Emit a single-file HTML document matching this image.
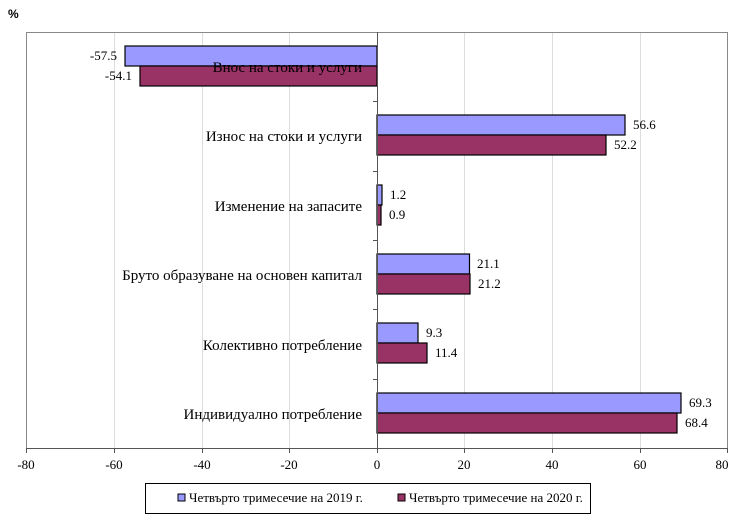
<!DOCTYPE html><html><head><meta charset="utf-8"><style>body{margin:0;background:#fff}</style></head><body>
<svg width="740" height="526" xmlns="http://www.w3.org/2000/svg" font-family="Liberation Serif, serif">
<text x="8" y="18" font-family="Liberation Sans, sans-serif" font-size="12" font-weight="bold">%</text>
<rect x="26.5" y="32.5" width="701" height="416" fill="#fff" stroke="#888"/>
<g stroke="#ddd">
<line x1="114.5" y1="33" x2="114.5" y2="448"/><line x1="202.5" y1="33" x2="202.5" y2="448"/><line x1="289.5" y1="33" x2="289.5" y2="448"/>
<line x1="464.5" y1="33" x2="464.5" y2="448"/><line x1="552.5" y1="33" x2="552.5" y2="448"/><line x1="640.5" y1="33" x2="640.5" y2="448"/>
</g>
<g stroke="#000" stroke-width="1.2">
<rect x="125" y="46" width="252" height="20" fill="#9999FF"/><rect x="140" y="66" width="237" height="20" fill="#993366"/>
<rect x="377" y="115" width="248" height="20" fill="#9999FF"/><rect x="377" y="135" width="229" height="20" fill="#993366"/>
<rect x="377" y="185" width="5" height="20" fill="#9999FF"/><rect x="377" y="205" width="4" height="20" fill="#993366"/>
<rect x="377" y="254" width="92.5" height="20" fill="#9999FF"/><rect x="377" y="274" width="93" height="20" fill="#993366"/>
<rect x="377" y="323" width="41" height="20" fill="#9999FF"/><rect x="377" y="343" width="50" height="20" fill="#993366"/>
<rect x="377" y="393" width="304" height="20" fill="#9999FF"/><rect x="377" y="413" width="300" height="20" fill="#993366"/>
</g>
<g stroke="#555"><line x1="377.5" y1="32" x2="377.5" y2="448"/><line x1="26" y1="448.5" x2="728" y2="448.5"/>
<line x1="373" y1="101.5" x2="377" y2="101.5"/><line x1="373" y1="171.5" x2="377" y2="171.5"/><line x1="373" y1="240.5" x2="377" y2="240.5"/><line x1="373" y1="309.5" x2="377" y2="309.5"/><line x1="373" y1="379.5" x2="377" y2="379.5"/>
<line x1="26.5" y1="448" x2="26.5" y2="453"/><line x1="114.5" y1="448" x2="114.5" y2="453"/><line x1="202.5" y1="448" x2="202.5" y2="453"/><line x1="289.5" y1="448" x2="289.5" y2="453"/><line x1="377.5" y1="448" x2="377.5" y2="453"/><line x1="464.5" y1="448" x2="464.5" y2="453"/><line x1="552.5" y1="448" x2="552.5" y2="453"/><line x1="640.5" y1="448" x2="640.5" y2="453"/><line x1="727.5" y1="448" x2="727.5" y2="453"/>
</g>
<g font-size="15" text-anchor="end" fill="#000">
<text x="362" y="72">Внос на стоки и услуги</text>
<text x="362" y="141">Износ на стоки и услуги</text>
<text x="362" y="211">Изменение на запасите</text>
<text x="362" y="280">Бруто образуване на основен капитал</text>
<text x="362" y="350">Колективно потребление</text>
<text x="362" y="419">Индивидуално потребление</text>
</g>
<g font-size="13" fill="#000">
<text x="117" y="60" text-anchor="end">-57.5</text><text x="132" y="80" text-anchor="end">-54.1</text>
<text x="633" y="129">56.6</text><text x="614" y="149">52.2</text>
<text x="390" y="199">1.2</text><text x="389" y="219">0.9</text>
<text x="477" y="268">21.1</text><text x="478" y="288">21.2</text>
<text x="426" y="337">9.3</text><text x="435" y="357">11.4</text>
<text x="689" y="407">69.3</text><text x="685" y="427">68.4</text>
</g>
<g font-size="13" text-anchor="middle" fill="#000">
<text x="26" y="469">-80</text><text x="114" y="469">-60</text><text x="202" y="469">-40</text><text x="289" y="469">-20</text><text x="377" y="469">0</text><text x="464" y="469">20</text><text x="552" y="469">40</text><text x="640" y="469">60</text><text x="722" y="469">80</text>
</g>
<rect x="145.5" y="483.5" width="445" height="30" fill="#fff" stroke="#000"/>
<rect x="178" y="494" width="7" height="7" fill="#9999FF" stroke="#000"/>
<text x="189" y="502" font-size="13">Четвърто тримесечие на 2019 г.</text>
<rect x="398" y="494" width="7" height="7" fill="#993366" stroke="#000"/>
<text x="409" y="502" font-size="13">Четвърто тримесечие на 2020 г.</text>
</svg>
</body></html>
